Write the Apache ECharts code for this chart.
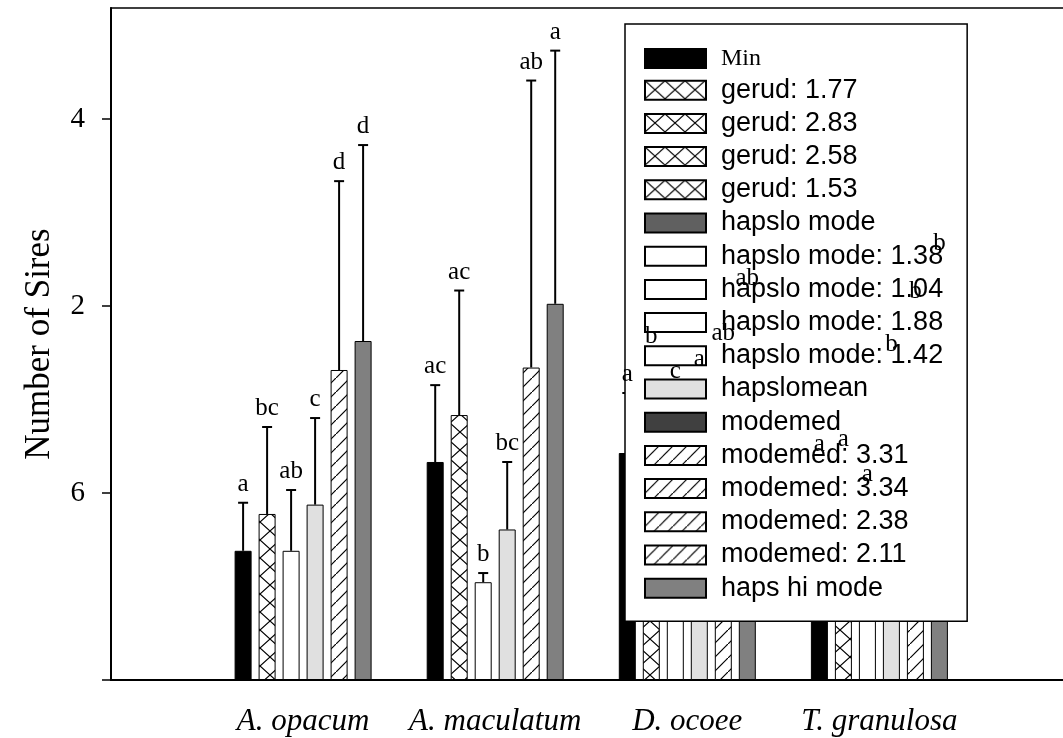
<!DOCTYPE html>
<html>
<head>
<meta charset="utf-8">
<script src="https://cdn.jsdelivr.net/npm/echarts@6/dist/echarts.min.js"></script>
<style>html,body{margin:0;padding:0;background:#fff;}#c{width:1063px;height:738px;}</style>
</head>
<body>
<div id="c"></div>
<script>
// ---- data ----
const categories = ['A. opacum', 'A. maculatum', 'D. ocoee', 'T. granulosa'];
const tickValues = [1, 2, 3];
const tickLabels = ['6', '2', '4'];

const minVals     = [0.691, 1.166, 1.214, 0.85];
const minErr      = [0.948, 1.577, 1.535, 1.160];
const gerudVals   = [0.888, 1.417, 1.40, 0.90];
const gerudErr    = [1.353, 2.083, 1.738, 1.187];
const hapsloVals  = [0.691, 0.523, 1.15, 0.75];
const hapsloErr   = [1.016, 0.572, 1.551, 1.000];
const meanVals    = [0.938, 0.805, 1.25, 1.30];
const meanErr     = [1.401, 1.166, 1.615, 1.695];
const modemedVals = [1.658, 1.671, 1.40, 1.50];
const modemedErr  = [2.668, 3.206, 1.754, 1.979];
const hiVals      = [1.813, 2.012, 1.60, 1.70];
const hiErr       = [2.861, 3.366, 2.048, 2.235];

const minLet     = ['a', 'ac', 'a', 'a'];
const gerudLet   = ['bc', 'ac', 'b', 'a'];
const hapsloLet  = ['ab', 'b', 'c', 'a'];
const meanLet    = ['c', 'bc', 'a', 'b'];
const modemedLet = ['d', 'ab', 'ab', 'b'];
const hiLet      = ['d', 'a', 'ab', 'b'];

const gerudNames   = ['gerud: 1.77', 'gerud: 2.83', 'gerud: 2.58', 'gerud: 1.53'];
const hapsloNames  = ['hapslo mode: 1.38', 'hapslo mode: 1.04', 'hapslo mode: 1.88', 'hapslo mode: 1.42'];
const modemedNames = ['modemed: 3.31', 'modemed: 3.34', 'modemed: 2.38', 'modemed: 2.11'];

// ---- styling ----
const BAR_W = 17, BAR_GAP = 7, NSLOT = 6;
function makeCross() {
  const w = 20, h = 18;
  const c = document.createElement('canvas'); c.width = w; c.height = h;
  const g = c.getContext('2d'); g.fillStyle = '#fff'; g.fillRect(0, 0, w, h);
  g.strokeStyle = '#000'; g.lineWidth = 1.2; g.beginPath();
  g.moveTo(0, 0); g.lineTo(w, h); g.moveTo(w, 0); g.lineTo(0, h); g.stroke();
  return c;
}
function makeHatch() {
  const s = 14;
  const c = document.createElement('canvas'); c.width = s; c.height = s;
  const g = c.getContext('2d'); g.fillStyle = '#fff'; g.fillRect(0, 0, s, s);
  g.strokeStyle = '#000'; g.lineWidth = 1.2; g.beginPath();
  g.moveTo(-1, s + 1); g.lineTo(s + 1, -1); g.stroke();
  return c;
}
const crossPat = { image: makeCross(), repeat: 'repeat' };
const hatchPat = { image: makeHatch(), repeat: 'repeat' };

const pad = arr => [null].concat(arr).concat([null]);
const only = (vals, k) => pad(vals.map((v, i) => i === k ? v : null));
const none = () => pad(categories.map(() => null));

function bar(name, stack, color, data) {
  return {
    type: 'bar', name, stack, data, barWidth: BAR_W, barGap: (BAR_GAP / BAR_W * 100).toFixed(2) + '%',
    itemStyle: { color, borderColor: '#000', borderWidth: 1 },
    emphasis: { disabled: true }, z: 2
  };
}

const series = [];
series.push(bar('Min', 's0', '#000', pad(minVals)));
gerudNames.forEach((n, k) => series.push(bar(n, 's1', crossPat, only(gerudVals, k))));
series.push(bar('hapslo mode', 's2', '#606060', none()));
hapsloNames.forEach((n, k) => series.push(bar(n, 's2', '#fff', only(hapsloVals, k))));
series.push(bar('hapslomean', 's3', '#e0e0e0', pad(meanVals)));
series.push(bar('modemed', 's4', '#404040', none()));
modemedNames.forEach((n, k) => series.push(bar(n, 's4', hatchPat, only(modemedVals, k))));
series.push(bar('haps hi mode', 's5', '#808080', pad(hiVals)));

const slotVals = [minVals, gerudVals, hapsloVals, meanVals, modemedVals, hiVals];
const slotErr  = [minErr, gerudErr, hapsloErr, meanErr, modemedErr, hiErr];
const slotLet  = [minLet, gerudLet, hapsloLet, meanLet, modemedLet, hiLet];
const errData = [], letData = [];
slotVals.forEach((vals, s) => vals.forEach((v, g) => {
  errData.push([g + 1, s, v, slotErr[s][g]]);
  letData.push([g + 1, s, slotErr[s][g], slotLet[s][g]]);
}));
const slotX = s => (s - (NSLOT - 1) / 2) * (BAR_W + BAR_GAP);

series.push({
  type: 'custom', name: 'err', data: errData, z: 3, silent: true,
  encode: { x: 0, y: 3 },
  renderItem(params, api) {
    const lo = api.coord([api.value(0), api.value(2)]);
    const hi = api.coord([api.value(0), api.value(3)]);
    const x = lo[0] + slotX(api.value(1));
    return { type: 'group', children: [
      { type: 'line', shape: { x1: x, y1: lo[1], x2: x, y2: hi[1] }, style: { stroke: '#000', lineWidth: 2 } },
      { type: 'line', shape: { x1: x - 5, y1: hi[1], x2: x + 5, y2: hi[1] }, style: { stroke: '#000', lineWidth: 2 } }
    ]};
  }
});
series.push({
  type: 'custom', name: 'letters', data: letData, z: 10, silent: true,
  dimensions: ['x', 'slot', 'y', 'label'],
  encode: { x: 0, y: 2 },
  renderItem(params, api) {
    const p = api.coord([api.value(0), api.value(2)]);
    const x = p[0] + slotX(api.value(1));
    const txt = letData[params.dataIndex][3];
    return { type: 'text', x: x, y: p[1] - 6,
      style: { text: txt, fill: '#000', font: '25px "Liberation Serif"', align: 'center', verticalAlign: 'bottom' } };
  }
});

const chart = echarts.init(document.getElementById('c'), null, { renderer: 'canvas' });
chart.setOption({
  animation: false,
  backgroundColor: '#fff',
  grid: { left: 111, top: 8, bottom: 58, right: -8.5, show: true, borderColor: '#000', borderWidth: 1.5,
          containLabel: false, outerBoundsMode: 'none' },
  legend: {
    data: series.filter(s => s.type === 'bar').map(s => s.name),
    orient: 'vertical', left: 625, top: 24, icon: 'rect',
    itemWidth: 61, itemHeight: 19, itemGap: 6.2,
    padding: [22.5, 24, 19.5, 19],
    backgroundColor: '#fff', borderColor: '#000', borderWidth: 1.5,
    selectedMode: false, z: 5,
    formatter: n => n === 'Min' ? '{t|' + n + '}' : '{s|' + n + '}',
    textStyle: {
      color: '#000', fontFamily: 'Liberation Sans', fontSize: 27, padding: [0, 0, 0, 10],
      rich: {
        t: { fontFamily: 'Liberation Serif', fontSize: 24, color: '#000' },
        s: { fontFamily: 'Liberation Sans', fontSize: 27, color: '#000' }
      }
    }
  },
  xAxis: {
    type: 'category', data: [''].concat(categories).concat(['']), boundaryGap: false,
    axisLine: { lineStyle: { color: '#000', width: 2 } },
    axisTick: { show: false },
    splitLine: { show: false },
    axisLabel: { interval: 0, margin: 26, color: '#000', fontFamily: 'Liberation Serif', fontStyle: 'italic', fontSize: 31 }
  },
  yAxis: {
    type: 'value', min: 0, max: 3.594,
    name: 'Number of Sires', nameLocation: 'middle', nameGap: 54, nameRotate: 90,
    nameTextStyle: { color: '#000', fontFamily: 'Liberation Serif', fontSize: 35 },
    axisLine: { show: true, lineStyle: { color: '#000', width: 2 } },
    axisTick: { show: true, inside: false, length: 9, lineStyle: { color: '#000', width: 1.5 }, customValues: [0].concat(tickValues) },
    splitLine: { show: false },
    axisLabel: { margin: 26, color: '#000', fontFamily: 'Liberation Serif', fontSize: 29,
      customValues: tickValues,
      formatter: v => { const i = tickValues.indexOf(Math.round(v)); return i >= 0 ? tickLabels[i] : ''; } }
  },
  series
});
</script>
</body>
</html>
